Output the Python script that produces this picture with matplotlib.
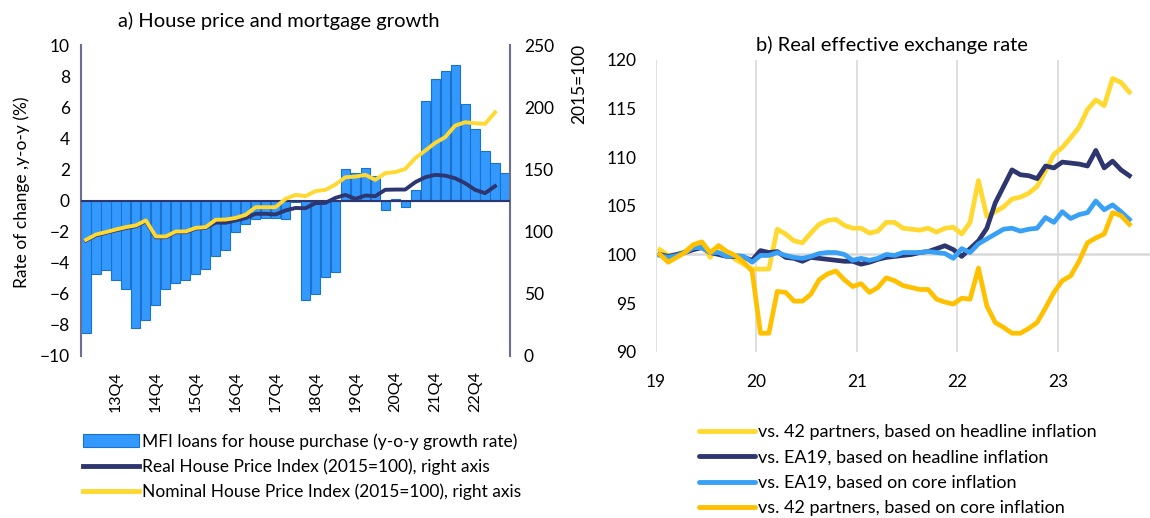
import numpy as np
import matplotlib
matplotlib.use("Agg")
import matplotlib.pyplot as plt
from matplotlib.patches import Patch
from matplotlib.lines import Line2D

plt.rcParams['font.family'] = ['Lato', 'DejaVu Sans']

# panel a) quarterly data, 13Q1 - 23Q3
quarters = [f"{y}Q{q}" for y in range(13, 24) for q in range(1, 5)][:43]
mfi_loans = [-8.5, -4.7, -4.5, -5.1, -5.7, -8.2, -7.7, -6.7, -5.7, -5.3,
             -5.1, -4.7, -4.4, -3.6, -3.2, -2.0, -1.5, -1.2, -1.1, -1.1,
             -1.2, -0.1, -6.4, -6.0, -4.9, -4.6, 2.0, 1.8, 2.1, 1.6,
             -0.6, 0.1, -0.4, 0.7, 6.4, 7.8, 8.3, 8.7, 6.2, 4.6,
             3.2, 2.4, 1.8]
real_hpi = [92.8, 97.0, 99.0, 101.0, 102.9, 104.3, 108.3, 95.4, 95.5, 99.5,
            99.5, 102.4, 103.0, 107.3, 107.1, 109.0, 110.8, 114.3, 114.3, 113.8,
            117.0, 119.0, 118.8, 122.9, 123.1, 127.1, 129.5, 126.3, 129.0, 128.5,
            133.6, 133.8, 133.8, 139.7, 143.7, 145.6, 145.0, 142.9, 138.9, 133.6,
            130.9, 136.5]
nominal_hpi = [93.4, 97.7, 99.6, 101.7, 103.6, 105.0, 109.0, 96.1, 96.1, 100.1,
               100.1, 103.0, 103.6, 109.5, 109.7, 111.0, 113.5, 119.6, 119.6, 119.6,
               126.3, 129.5, 128.5, 132.5, 133.6, 137.8, 143.7, 144.2, 145.6, 141.6,
               147.0, 147.8, 150.4, 159.0, 165.1, 171.3, 175.9, 185.2, 187.9, 187.1,
               186.6, 195.9]

# panel b) monthly data, Jan 2019 - Sep 2023
reer_42_headline = [100.5, 99.9, 100.0, 100.3, 101.0, 101.2, 99.7, 100.9, 100.2, 99.5,
                    99.0, 98.5, 98.5, 98.5, 102.6, 102.1, 101.4, 101.2, 102.2, 103.1,
                    103.5, 103.6, 103.0, 102.7, 102.7, 102.2, 102.4, 103.3, 103.3, 102.7,
                    102.6, 102.5, 102.7, 102.3, 102.7, 102.8, 102.1, 103.3, 107.6, 103.9,
                    104.4, 104.9, 105.7, 105.9, 106.3, 107.0, 108.6, 110.3, 111.0, 112.0,
                    113.1, 114.9, 115.9, 115.3, 118.1, 117.7, 116.7]
reer_ea19_headline = [100.0, 99.8, 100.0, 100.2, 100.5, 100.7, 100.2, 100.0, 99.8, 99.8,
                      99.7, 99.4, 100.4, 100.2, 100.3, 99.7, 99.6, 99.3, 99.7, 99.6,
                      99.5, 99.4, 99.3, 99.3, 99.0, 99.2, 99.5, 99.7, 99.8, 99.9,
                      100.0, 100.2, 100.3, 100.6, 100.9, 100.5, 99.8, 100.6, 101.4, 102.7,
                      105.3, 107.0, 108.7, 108.2, 108.1, 107.8, 109.1, 108.9, 109.5, 109.4,
                      109.3, 109.1, 110.7, 108.9, 109.6, 108.7, 108.1]
reer_ea19_core = [99.9, 99.7, 99.9, 100.2, 100.7, 100.7, 100.2, 100.2, 99.8, 99.9,
                  99.8, 99.2, 99.9, 99.9, 100.2, 99.9, 99.7, 99.6, 99.8, 100.1,
                  100.2, 100.2, 100.0, 99.4, 99.6, 99.4, 99.6, 100.0, 99.9, 100.2,
                  100.2, 100.2, 100.3, 100.2, 100.1, 99.6, 100.6, 100.2, 101.1, 101.6,
                  102.1, 102.6, 102.7, 102.4, 102.6, 102.7, 103.8, 103.3, 104.4, 103.7,
                  104.1, 104.3, 105.5, 104.6, 105.1, 104.4, 103.6]
reer_42_core = [100.0, 99.2, 99.7, 100.2, 101.0, 101.3, 100.2, 100.9, 100.3, 99.9,
                99.2, 98.3, 91.9, 91.9, 96.2, 96.1, 95.2, 95.2, 95.9, 97.4,
                98.0, 98.3, 97.4, 96.7, 97.0, 96.1, 96.6, 97.6, 97.3, 96.8,
                96.6, 96.4, 96.4, 95.4, 95.1, 94.9, 95.5, 95.4, 98.6, 94.7,
                93.0, 92.5, 91.9, 91.9, 92.4, 93.0, 94.5, 96.1, 97.3, 97.8,
                99.3, 101.2, 101.7, 102.1, 104.3, 104.0, 103.1]

BLUE = '#3399ff'
BLUE_EDGE = '#1a72cc'
NAVY = '#2e3670'
YELLOW = '#ffd92f'
ORANGE = '#ffc000'
LBLUE = '#38a0f5'
SPINE = '#6b6f8e'

W, H = 1150, 518
fig = plt.figure(figsize=(W / 100, H / 100), dpi=100)

# ---- a) house prices and mortgages ----
ax = fig.add_axes([81 / W, 1 - 356 / H, 429 / W, 311 / H])
x = np.arange(len(mfi_loans))
ax.bar(x, mfi_loans, width=0.92, color=BLUE, edgecolor=BLUE_EDGE, linewidth=0.8, zorder=2)
ax.axhline(0, color=NAVY, lw=1.5, zorder=3)
ax.set_xlim(-0.5, len(mfi_loans) - 0.5)
ax.set_ylim(-10, 10)
ax.set_yticks(range(-10, 11, 2))
q4 = [i for i, q in enumerate(quarters) if q.endswith('Q4')]
ax.set_xticks(q4)
ax.set_xticklabels([quarters[i] for i in q4], rotation=90, fontsize=11.5)
ax.tick_params(axis='x', length=0, pad=11)
ax.tick_params(axis='y', length=0, pad=8, labelsize=12.5)
for s in ['top', 'bottom']:
    ax.spines[s].set_visible(False)
for s in ['left', 'right']:
    ax.spines[s].set_color(SPINE)
    ax.spines[s].set_linewidth(1.5)

ax2 = ax.twinx()
xl = np.arange(len(nominal_hpi))
ax2.plot(xl, real_hpi, color=NAVY, lw=2.8, solid_joinstyle='round', zorder=3)
ax2.plot(xl, nominal_hpi, color=YELLOW, lw=2.8, solid_joinstyle='round', zorder=4)
ax2.set_ylim(0, 250)
ax2.set_yticks(range(0, 251, 50))
ax2.tick_params(axis='y', length=0, pad=10, labelsize=12.5)
for s in ['top', 'bottom', 'left', 'right']:
    ax2.spines[s].set_visible(False)

fig.text(279 / W, 1 - 21 / H, 'a) House price and mortgage growth', fontsize=14.5,
         ha='center', va='center')
fig.text(22 / W, 1 - 192 / H, 'Rate of change ,y-o-y (%)', fontsize=12.5,
         rotation=90, ha='center', va='center')

handles_a = [Patch(facecolor=BLUE, edgecolor=BLUE_EDGE, linewidth=0.8),
             Line2D([], [], color=NAVY, lw=3.5),
             Line2D([], [], color=YELLOW, lw=3.5)]
labels_a = ['MFI loans for house purchase (y-o-y growth rate)',
            'Real House Price Index (2015=100), right axis',
            'Nominal House Price Index (2015=100), right axis']
fig.legend(handles_a, labels_a, loc='upper left', bbox_to_anchor=(76 / W, 1 - 426 / H),
           frameon=False, fontsize=12.5, handlelength=3.2, handleheight=0.7,
           handletextpad=0.2, labelspacing=0.5, borderaxespad=0)

# ---- b) real effective exchange rate ----
bx = fig.add_axes([655.7 / W, 1 - 351.7 / H, (W - 655.7) / W, 291.7 / H])
xm = 19 + (np.arange(len(reer_42_headline)) + 0.5) / 12
bx.set_xlim(19, 19 + (W - 655.7) / 100.6)
bx.set_ylim(90, 120)
for yr in range(19, 24):
    bx.axvline(yr, color='#d9d9d9', lw=1.2, zorder=1)
bx.axhline(100, color='#d9d9d9', lw=1.8, zorder=1)
bx.plot(xm, reer_42_headline, color=YELLOW, lw=3.4, solid_joinstyle='round', zorder=3)
bx.plot(xm, reer_ea19_headline, color=NAVY, lw=3.4, solid_joinstyle='round', zorder=3)
bx.plot(xm, reer_ea19_core, color=LBLUE, lw=3.4, solid_joinstyle='round', zorder=3)
bx.plot(xm, reer_42_core, color=ORANGE, lw=3.4, solid_joinstyle='round', zorder=3)
bx.set_xticks(range(19, 24))
bx.set_yticks(range(90, 121, 5))
bx.tick_params(axis='x', length=0, pad=16, labelsize=12.5)
bx.tick_params(axis='y', length=0, pad=14, labelsize=12.5)
for s in bx.spines.values():
    s.set_visible(False)

fig.text(892 / W, 1 - 45 / H, 'b) Real effective exchange rate', fontsize=14.5,
         ha='center', va='center')
fig.text(579 / W, 1 - 84 / H, '2015=100', fontsize=12.5, rotation=90,
         ha='center', va='center')

handles_b = [Line2D([], [], color=c, lw=3.5, solid_capstyle='round')
             for c in [YELLOW, NAVY, LBLUE, ORANGE]]
labels_b = ['vs. 42 partners, based on headline inflation',
            'vs. EA19, based on headline inflation',
            'vs. EA19, based on core inflation',
            'vs. 42 partners, based on core inflation']
fig.legend(handles_b, labels_b, loc='upper left', bbox_to_anchor=(692 / W, 1 - 417 / H),
           frameon=False, fontsize=13, handlelength=3.1,
           handletextpad=0.15, labelspacing=0.52, borderaxespad=0)

fig.savefig('out.png', dpi=100)
